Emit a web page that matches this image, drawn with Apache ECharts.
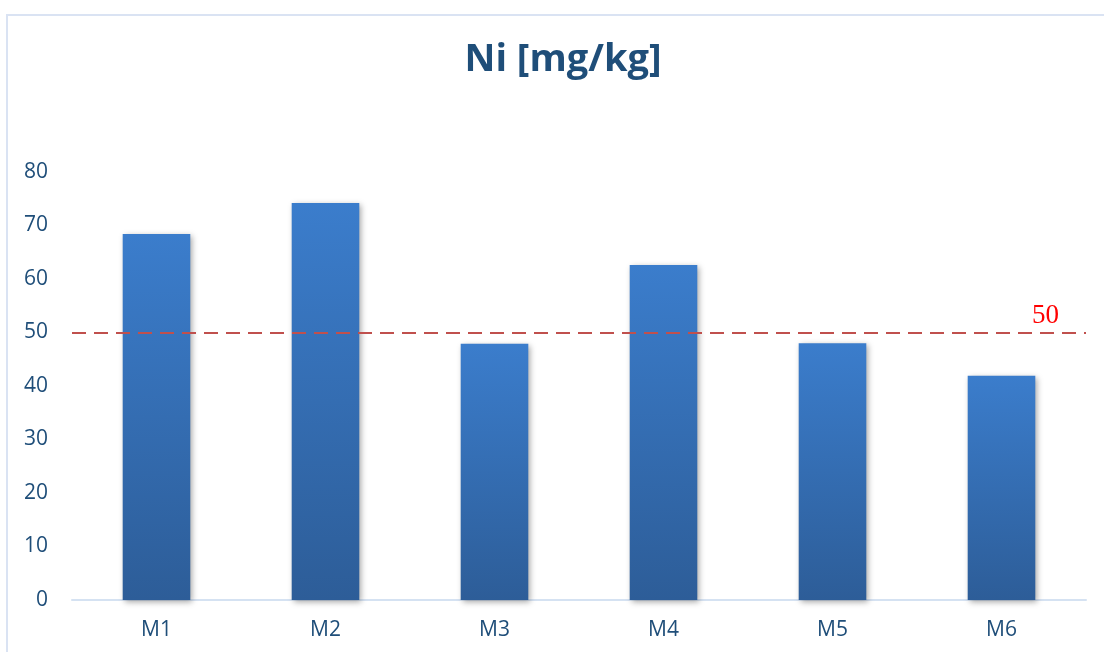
<!DOCTYPE html>
<html>
<head>
<meta charset="utf-8">
<title>Ni [mg/kg]</title>
<script src="https://cdn.jsdelivr.net/npm/echarts@6/dist/echarts.min.js"></script>
<style>
  html, body { margin: 0; padding: 0; background: #ffffff; }
  #chart { width: 1104px; height: 652px; }
</style>
</head>
<body>
<div id="chart"></div>
<script>
// Nickel content per sample
const categories = ['M1', 'M2', 'M3', 'M4', 'M5', 'M6'];
const niValues = [68.4, 74.2, 47.9, 62.6, 48.0, 41.9];
// Limit value drawn as a dashed reference line
const limitValue = 50;
const yTicks = { min: 0, max: 80, interval: 10 };

const textBlue = '#1F4E79';
const chart = echarts.init(document.getElementById('chart'), null, { renderer: 'canvas' });

chart.setOption({
  animation: false,
  backgroundColor: '#ffffff',
  title: {
    text: 'Ni [mg/kg]',
    left: 558,
    textAlign: 'center',
    top: 36,
    textStyle: {
      fontFamily: 'Open Sans',
      fontWeight: 'bold',
      fontSize: 38,
      color: textBlue
    }
  },
  graphic: [{
    type: 'rect',
    silent: true,
    shape: { x: 7, y: 15, width: 1300, height: 900 },
    style: { fill: 'none', stroke: '#dae3f3', lineWidth: 2 }
  }],
  grid: { left: 72, right: 18, top: 172, bottom: 52 },
  xAxis: {
    type: 'category',
    data: categories,
    axisLine: { lineStyle: { color: '#d5e2f2', width: 2 } },
    axisTick: { show: false },
    axisLabel: {
      margin: 20,
      fontFamily: 'Open Sans',
      fontSize: 21,
      color: textBlue
    }
  },
  yAxis: {
    type: 'value',
    min: yTicks.min,
    max: yTicks.max,
    interval: yTicks.interval,
    axisLine: { show: false },
    axisTick: { show: false },
    splitLine: { show: false },
    axisLabel: {
      margin: 24,
      fontFamily: 'Open Sans',
      fontSize: 21,
      color: textBlue
    }
  },
  series: [{
    type: 'bar',
    data: niValues,
    barWidth: '40%',
    itemStyle: {
      color: new echarts.graphic.LinearGradient(0, 0, 0, 1, [
        { offset: 0, color: '#3b7dcc' },
        { offset: 1, color: '#2d5d98' }
      ]),
      shadowColor: 'rgba(0,0,0,0.35)',
      shadowBlur: 6,
      shadowOffsetX: 2,
      shadowOffsetY: 2
    },
    markLine: {
      silent: true,
      symbol: ['none', 'none'],
      lineStyle: { color: '#c0504d', type: [14, 8], width: 2 },
      label: {
        show: true,
        position: 'insideEndTop',
        formatter: String(limitValue),
        fontFamily: 'Liberation Serif',
        fontSize: 27,
        color: '#ff0000',
        offset: [-22, 2]
      },
      data: [{ yAxis: limitValue }]
    }
  }]
});
</script>
</body>
</html>
